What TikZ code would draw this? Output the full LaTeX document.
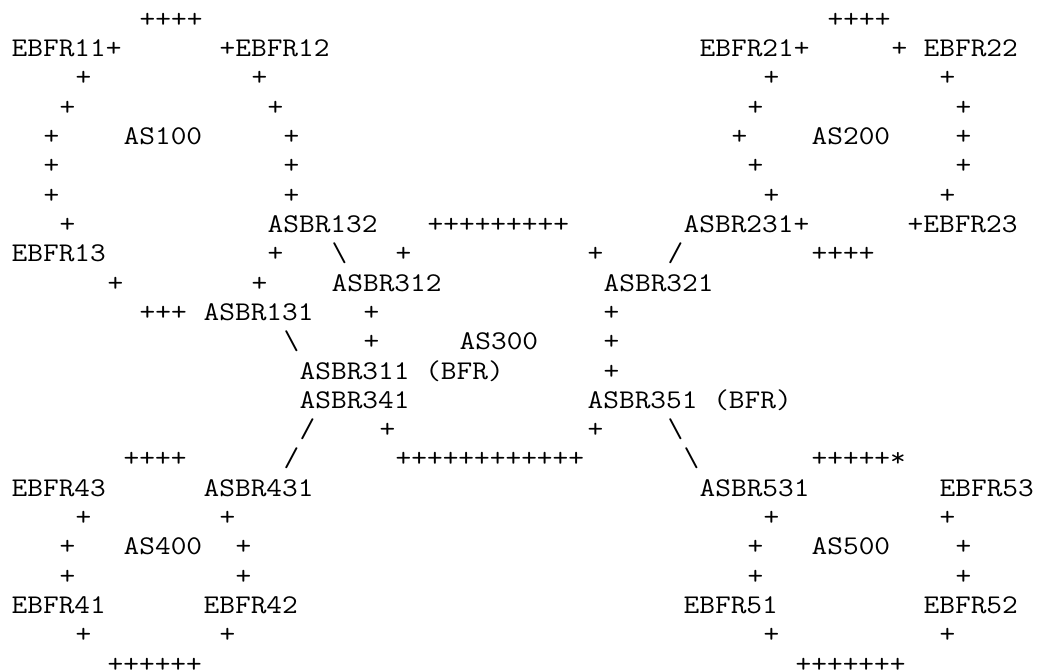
\documentclass[tikz,border=0pt]{standalone}
\usepackage{graphicx}
\tikzset{
  tok/.style={anchor=base west, inner sep=0pt, outer sep=0pt,
    font=\fontsize{27}{27}\selectfont\ttfamily, text=black}
}
% one token of the character grid: name, column, row, text
\newcommand\tk[4]{\node[tok] (#1) at ({11.7+16*#2},{27.4+29.3*(#3-1)}) {\scalebox{1.12875}[1]{#4}};}
\begin{document}
\begin{tikzpicture}[x=1pt,y=-1pt]
\useasboundingbox (0,0) rectangle (1037,671);
% row 1
\tk{t1a}{8}{1}{++++}
\tk{t1b}{51}{1}{++++}
% row 2
\tk{ebfr11}{0}{2}{EBFR11+}
\tk{ebfr12}{13}{2}{+EBFR12}
\tk{ebfr21}{43}{2}{EBFR21+}
\tk{t2a}{55}{2}{+}
\tk{ebfr22}{57}{2}{EBFR22}
% row 3
\tk{t3a}{4}{3}{+}
\tk{t3b}{15}{3}{+}
\tk{t3c}{47}{3}{+}
\tk{t3d}{58}{3}{+}
% row 4
\tk{t4a}{3}{4}{+}
\tk{t4b}{16}{4}{+}
\tk{t4c}{46}{4}{+}
\tk{t4d}{59}{4}{+}
% row 5
\tk{t5a}{2}{5}{+}
\tk{as100}{7}{5}{AS100}
\tk{t5b}{17}{5}{+}
\tk{t5c}{45}{5}{+}
\tk{as200}{50}{5}{AS200}
\tk{t5d}{59}{5}{+}
% row 6
\tk{t6a}{2}{6}{+}
\tk{t6b}{17}{6}{+}
\tk{t6c}{46}{6}{+}
\tk{t6d}{59}{6}{+}
% row 7
\tk{t7a}{2}{7}{+}
\tk{t7b}{17}{7}{+}
\tk{t7c}{47}{7}{+}
\tk{t7d}{58}{7}{+}
% row 8
\tk{t8a}{3}{8}{+}
\tk{asbr132}{16}{8}{ASBR132}
\tk{t8b}{26}{8}{+++++++++}
\tk{asbr231}{42}{8}{ASBR231+}
\tk{ebfr23}{56}{8}{+EBFR23}
% row 9
\tk{ebfr13}{0}{9}{EBFR13}
\tk{t9a}{16}{9}{+}
\tk{t9b}{20}{9}{\textbackslash}
\tk{t9c}{24}{9}{+}
\tk{t9d}{36}{9}{+}
\tk{t9e}{41}{9}{/}
\tk{t9f}{50}{9}{++++}
% row 10
\tk{t10a}{6}{10}{+}
\tk{t10b}{15}{10}{+}
\tk{asbr312}{20}{10}{ASBR312}
\tk{asbr321}{37}{10}{ASBR321}
% row 11
\tk{t11a}{8}{11}{+++}
\tk{asbr131}{12}{11}{ASBR131}
\tk{t11b}{22}{11}{+}
\tk{t11c}{37}{11}{+}
% row 12
\tk{t12a}{17}{12}{\textbackslash}
\tk{t12b}{22}{12}{+}
\tk{as300}{28}{12}{AS300}
\tk{t12c}{37}{12}{+}
% row 13
\tk{asbr311}{18}{13}{ASBR311 (BFR)}
\tk{t13a}{37}{13}{+}
% row 14
\tk{asbr341}{18}{14}{ASBR341}
\tk{asbr351}{36}{14}{ASBR351 (BFR)}
% row 15
\tk{t15a}{18}{15}{/}
\tk{t15b}{23}{15}{+}
\tk{t15c}{36}{15}{+}
\tk{t15d}{41}{15}{\textbackslash}
% row 16
\tk{t16a}{7}{16}{++++}
\tk{t16b}{17}{16}{/}
\tk{t16c}{24}{16}{++++++++++++}
\tk{t16d}{42}{16}{\textbackslash}
\tk{t16e}{50}{16}{+++++*}
% row 17
\tk{ebfr43}{0}{17}{EBFR43}
\tk{asbr431}{12}{17}{ASBR431}
\tk{asbr531}{43}{17}{ASBR531}
\tk{ebfr53}{58}{17}{EBFR53}
% row 18
\tk{t18a}{4}{18}{+}
\tk{t18b}{13}{18}{+}
\tk{t18c}{47}{18}{+}
\tk{t18d}{58}{18}{+}
% row 19
\tk{t19a}{3}{19}{+}
\tk{as400}{7}{19}{AS400}
\tk{t19b}{14}{19}{+}
\tk{t19c}{46}{19}{+}
\tk{as500}{50}{19}{AS500}
\tk{t19d}{59}{19}{+}
% row 20
\tk{t20a}{3}{20}{+}
\tk{t20b}{14}{20}{+}
\tk{t20c}{46}{20}{+}
\tk{t20d}{59}{20}{+}
% row 21
\tk{ebfr41}{0}{21}{EBFR41}
\tk{ebfr42}{12}{21}{EBFR42}
\tk{ebfr51}{42}{21}{EBFR51}
\tk{ebfr52}{57}{21}{EBFR52}
% row 22
\tk{t22a}{4}{22}{+}
\tk{t22b}{13}{22}{+}
\tk{t22c}{47}{22}{+}
\tk{t22d}{58}{22}{+}
% row 23
\tk{t23a}{6}{23}{++++++}
\tk{t23b}{49}{23}{+++++++}
\end{tikzpicture}
\end{document}
